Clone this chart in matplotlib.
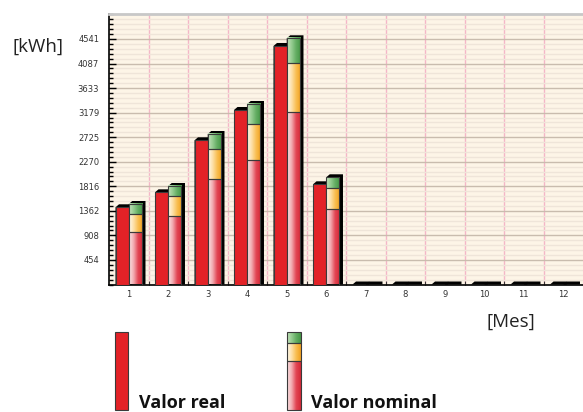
import numpy as np
import matplotlib
matplotlib.use("Agg")
import matplotlib.pyplot as plt
from matplotlib.patches import Rectangle, Polygon
from matplotlib.colors import LinearSegmentedColormap
from matplotlib.ticker import FixedLocator, MultipleLocator

# ---------------- data ----------------
months = ["1", "2", "3", "4", "5", "6", "7", "8", "9", "10", "11", "12"]
real_values = [1428, 1705, 2667, 3228, 4412, 1853, 0, 0, 0, 0, 0, 0]
nominal_red = [965, 1273, 1951, 2308, 3196, 1391, 0, 0, 0, 0, 0, 0]
nominal_yellow = [339, 364, 550, 661, 895, 400, 0, 0, 0, 0, 0, 0]
nominal_green = [185, 185, 283, 370, 463, 192, 0, 0, 0, 0, 0, 0]
ytick_step = 454.1
ytick_labels = ["454", "908", "1362", "1816", "2270", "2725", "3179", "3633", "4087", "4541"]
y_max = 4995.1
legend_labels = ["Valor real", "Valor nominal"]
y_unit = "[kWh]"
x_unit = "[Mes]"

# ---------------- style ----------------
W, H = 583, 412
REAL_COLOR = "#e32227"
EDGE = "#3a3a3a"
red_cmap = LinearSegmentedColormap.from_list("r", ["#fbe4e4", "#f2aab0", "#e24452", "#d42a38"])
yel_cmap = LinearSegmentedColormap.from_list("y", ["#fffaec", "#fde0a8", "#f9be50", "#f0a020"])
grn_cmap = LinearSegmentedColormap.from_list("g", ["#c4e2bc", "#94cc90", "#62ac62", "#459645"])


def grad(cmap):
    return cmap(np.linspace(0, 1, 64))[None, :, :3]


fig = plt.figure(figsize=(W / 100, H / 100), dpi=100)
fig.patch.set_facecolor("white")

ax_l, ax_r, ax_t, ax_b = 109, 583, 14.45, 284.5
ax = fig.add_axes([ax_l / W, 1 - ax_b / H, (ax_r - ax_l) / W, (ax_b - ax_t) / H])
ax.set_facecolor("#fdf5e7")

n = len(months)
x = np.arange(1, n + 1)
bw = 0.335
# shadow depth in pixels -> data units
px_x = (n) / (ax_r - ax_l)
px_y = y_max / (ax_b - ax_t)
dx = 3.5 * px_x
dy = 3.0 * px_y


def shadow(x0, x1, h):
    pts = [(x0, h), (x0 + dx, h + dy), (x1 + dx, h + dy), (x1 + dx, 0), (x0, 0)]
    ax.add_patch(Polygon(pts, closed=True, facecolor="black", edgecolor="none", zorder=2))


for i in range(n):
    c = x[i]
    # real bar
    r0, r1 = c - bw, c
    shadow(r0, r1, real_values[i])
    if real_values[i] > 0:
        ax.add_patch(Rectangle((r0, 0), bw, real_values[i], facecolor=REAL_COLOR,
                               edgecolor=EDGE, linewidth=0.8, zorder=3))
    # nominal bar
    n0, n1 = c, c + bw
    tot = nominal_red[i] + nominal_yellow[i] + nominal_green[i]
    shadow(n0, n1, tot)
    base = 0
    for val, cm in ((nominal_red[i], red_cmap), (nominal_yellow[i], yel_cmap), (nominal_green[i], grn_cmap)):
        if val <= 0:
            continue
        ax.imshow(grad(cm), extent=[n0, n1, base, base + val], aspect="auto",
                  interpolation="bilinear", origin="lower", zorder=3)
        ax.add_patch(Rectangle((n0, base), bw, val, facecolor="none",
                               edgecolor=EDGE, linewidth=0.8, zorder=4))
        base += val

ax.set_xlim(0.5, n + 0.5)
ax.set_ylim(0, y_max)

# grids
ax.set_axisbelow(True)
ax.yaxis.set_major_locator(FixedLocator([ytick_step * (k + 1) for k in range(len(ytick_labels))]))
ax.set_yticklabels(ytick_labels)
ax.yaxis.set_minor_locator(MultipleLocator(ytick_step / 5))
ax.grid(axis="y", which="major", color="#c9bcae", linewidth=1.0, zorder=0)
ax.grid(axis="y", which="minor", color="#efe5d9", linewidth=1.0, zorder=0)
ax.set_xticks(x)
ax.set_xticklabels(months)
ax.xaxis.set_minor_locator(FixedLocator(np.arange(1.5, n + 0.5, 1)))
ax.grid(axis="x", which="minor", color="#f4b6c8", linewidth=1.0, zorder=0)

ax.tick_params(axis="y", which="major", direction="in", length=5, width=1, color="black",
               labelsize=6, labelcolor="#333333", pad=7)
ax.tick_params(axis="y", which="minor", direction="in", length=3, width=1, color="black")
ax.tick_params(axis="x", which="major", length=0, labelsize=6, labelcolor="#333333", pad=4)
ax.tick_params(axis="x", which="minor", direction="in", length=3, width=0.8, color="#333333")

for s in ("left", "bottom"):
    ax.spines[s].set_color("black")
    ax.spines[s].set_linewidth(1.2)
ax.spines["top"].set_color("#c8c8c8")
ax.spines["top"].set_linewidth(2)
ax.spines["right"].set_visible(False)

# axis unit labels
fig.text(13 / W, 1 - 47 / H, y_unit, fontsize=13.5, family="Open Sans", color="#222222",
         ha="left", va="center")
fig.text(486 / W, 1 - 322 / H, x_unit, fontsize=13.5, family="Open Sans", color="#222222",
         ha="left", va="center")

# legend in pixel coordinates
lg = fig.add_axes([0, 0, 1, 1 - 320 / H])
lg.set_xlim(0, W)
lg.set_ylim(H, 320)
lg.axis("off")
lg.patch.set_visible(False)
lg.add_patch(Rectangle((115, 332), 13, 78, facecolor=REAL_COLOR, edgecolor=EDGE, linewidth=0.8))
segs = [(332, 343, grn_cmap), (343, 361, yel_cmap), (361, 410, red_cmap)]
for y0, y1, cm in segs:
    lg.imshow(grad(cm), extent=[287, 301, y1, y0], aspect="auto", interpolation="bilinear", zorder=2)
    lg.add_patch(Rectangle((287, y0), 14, y1 - y0, facecolor="none", edgecolor=EDGE,
                           linewidth=0.8, zorder=3))
lg.set_xlim(0, W)
lg.set_ylim(H, 320)
lg.text(139, 408, legend_labels[0], fontsize=13, fontweight="bold", family="Open Sans",
        color="#111111", ha="left", va="baseline")
lg.text(311, 408, legend_labels[1], fontsize=13, fontweight="bold", family="Open Sans",
        color="#111111", ha="left", va="baseline")

fig.savefig("out.png", dpi=100)
